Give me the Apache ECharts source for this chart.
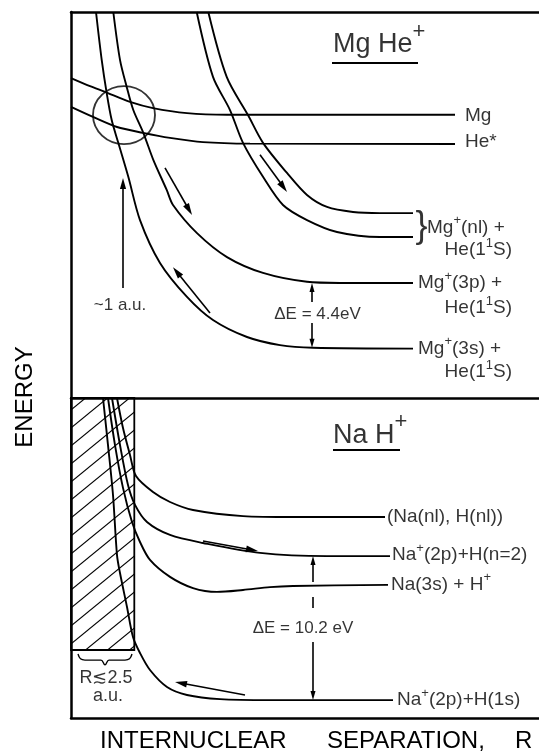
<!DOCTYPE html>
<html><head><meta charset="utf-8">
<script src="https://cdn.jsdelivr.net/npm/echarts@6/dist/echarts.min.js"></script>
<style>html,body{margin:0;padding:0;background:#fff}#c{width:539px;height:752px}</style>
</head><body><div id="c"></div>
<script>
// ---------- Upper panel: MgHe+ (R and energy in arbitrary units) ----------
const mgCurve    = [[0,82.9],[3.8,80.8],[6.8,79.3],[11.8,76.7],[16.4,75.1],[23.2,73.8],[31.2,73.4],[45.8,73.4],[76.8,73.4]];
const heStarCurve= [[0,75.4],[4.4,72.8],[9.2,70.2],[14.4,68.7],[19.8,67.4],[26.4,66.3],[35.8,65.9],[76.8,65.8]];
const mg3sCurve  = [[5.0,100],[6.14,87.6],[7.14,79.0],[8.14,72.0],[9.46,66.1],[11.46,57.3],[13.8,46.1],[17.8,35.0],[23.2,26.2],[28.4,20.2],[35.2,15.8],[41.8,13.7],[48.4,13.0],[68.4,12.8]];
const mg3pCurve  = [[8.46,100],[9.8,87.6],[11.14,80.6],[12.46,74.6],[14.46,68.7],[16.46,61.7],[19.14,53.9],[20.4,50.0],[25.2,42.7],[31.2,36.5],[38.4,32.4],[47.2,30.1],[53.8,29.8],[68.4,29.8]];
const mgNlLower  = [[25.14,100],[28.4,83.2],[31.8,74.6],[34.4,66.1],[38.4,57.3],[42.4,50.0],[47.2,46.1],[53.2,43.0],[61.8,41.7],[68.4,41.7]];
const mgNlUpper  = [[27.46,100],[31.14,83.2],[35.4,73.3],[38.4,66.1],[43.2,58.3],[47.2,52.6],[51.2,49.5],[56.4,48.2],[61.8,47.9],[68.4,47.9]];
const crossingCircle = [[10.6,73.3]];
const titleRule1 = [[52.2,86.8],[69.4,86.8]];
// arrows: [x1, y1, x2, y2, headLength]
const topArrows = [
  [18.8,59.6,24.2,47.4,12],
  [37.8,63.0,43.2,53.4,12],
  [27.8,22.0,20.4,33.9,12],
  [10.4,28.5,10.4,57.0,11],
  [48.2,24.9,48.2,29.8,9],
  [48.2,19.4,48.2,13.0,9]
];
// text items: [text, x, y]   ("^c" marks a raised character)
const topStateLabels = [
  ['Mg', 78.8, 73.1], ['He*', 78.8, 66.3],
  ['Mg^+(nl) +', 71.2, 44.2], ['Mg^+(3p) +', 69.4, 29.8], ['Mg^+(3s) +', 69.4, 12.8]
];
const topPartnerLabels = [['He(1^1S)', 88.2, 38.3], ['He(1^1S)', 88.2, 23.3], ['He(1^1S)', 88.2, 6.7]];
const topBrace = [['}', 68.9, 44.2]];
const topNotes = [['\u0394E = 4.4eV', 49.3, 21.6], ['~1 a.u.', 9.8, 24.1]];
const topTitle = [['Mg He^+', 52.4, 91.5]];

// ---------- Lower panel: NaH+ ----------
const naNlCurve  = [[9.2,100],[10.4,90.6],[11.8,82.2],[13.0,75.6],[16.4,70.6],[19.8,67.5],[24.4,65.0],[34.4,63.1],[44.4,62.8],[62.8,62.8]];
const naN2Curve  = [[8.2,100],[9.8,85.3],[11.4,72.8],[12.8,66.6],[15.2,61.25],[19.8,57.2],[26.4,54.7],[37.8,51.6],[51.2,50.6],[63.8,50.6]];
const na3sCurve  = [[7.4,100],[8.8,85.3],[10.4,71.9],[12.2,61.25],[13.8,55.0],[15.8,49.4],[19.8,44.1],[24.4,40.6],[29.2,39.4],[34.4,40.0],[39.8,40.9],[44.4,41.25],[63.4,41.6]];
const na1sCurve  = [[6.4,100],[7.4,85.3],[8.4,69.7],[9.2,50.9],[9.8,45.3],[11.2,34.7],[12.4,25.3],[13.8,20.3],[15.8,15.0],[19.2,9.7],[23.2,7.2],[29.8,5.9],[39.8,5.6],[64.4,5.6]];
const hatchedRegion = [[0,21.25],[12.66,100]];
const rangeBrace = [[1.4,20.0],[1.9,18.5],[2.8,18.1],[6.0,18.1],[6.8,16.6],[7.6,18.1],[10.8,18.1],[11.7,18.5],[12.2,20.0]];
const titleRule2 = [[52.4,83.75],[65.8,83.75]];
const bottomArrows = [
  [26.4,55.3,37.4,52.2,12],
  [34.8,7.2,20.8,11.25,12],
  [48.4,42.5,48.4,50.6,9],
  [48.4,37.8,48.4,34.4,0],
  [48.4,23.75,48.4,5.6,9]
];
const bottomStateLabels = [
  ['(Na(nl), H(nl))', 63.2, 62.8],
  ['Na^+(2p)+H(n=2)', 64.2, 50.9],
  ['Na(3s) + H^+', 64.0, 41.6],
  ['Na^+(2p)+H(1s)', 65.2, 5.6]
];
const bottomNotes = [['\u0394E = 10.2 eV', 46.4, 28.1]];
const rangeNotes = [['R\u22722.5', 7.0, 12.5], ['a.u.', 7.4, 6.9]];
const bottomTitle = [['Na H^+', 52.4, 88.4]];

// ---------- rendering ----------
const FONT = 'Liberation Sans, Arial, sans-serif';
const hatch = document.createElement('canvas');
hatch.width = 22; hatch.height = 18;
(function(){
  const g = hatch.getContext('2d');
  g.strokeStyle = '#000'; g.lineWidth = 1.1;
  [-22, 0, 22].forEach(function(o){
    g.beginPath(); g.moveTo(o - 1, 18 + 0.82); g.lineTo(o + 23, -0.82); g.stroke();
  });
})();

function curve(data, gi){
  return {type:'line', data:data, xAxisIndex:gi, yAxisIndex:gi, smooth:0.3, symbol:'none',
    lineStyle:{color:'#000', width:1.9}, silent:true, z:3, animation:false};
}
function arrows(data, gi){
  return {type:'custom', xAxisIndex:gi, yAxisIndex:gi, data:data, silent:true, z:4,
    encode:{x:[0,2], y:[1,3]},
    renderItem:function(params, api){
      const a = api.coord([api.value(0), api.value(1)]);
      const b = api.coord([api.value(2), api.value(3)]);
      const h = api.value(4);
      const dx = b[0]-a[0], dy = b[1]-a[1], L = Math.hypot(dx,dy), ux = dx/L, uy = dy/L;
      const ex = h>0 ? b[0]-ux*h*0.7 : b[0], ey = h>0 ? b[1]-uy*h*0.7 : b[1];
      const ch = [{type:'line', shape:{x1:a[0],y1:a[1],x2:ex,y2:ey}, style:{stroke:'#000', lineWidth:1.6}}];
      if (h>0){
        const w = h*0.28;
        ch.push({type:'polygon', shape:{points:[[b[0],b[1]],
          [b[0]-ux*h-uy*w, b[1]-uy*h+ux*w],[b[0]-ux*h+uy*w, b[1]-uy*h-ux*w]]}, style:{fill:'#000'}});
      }
      return {type:'group', children:ch};
    }};
}
const posOf = {start:'right', end:'left', mid:'inside'};
function texts(list, gi, anchor, size, supSize, supRaise){
  return {type:'scatter', xAxisIndex:gi, yAxisIndex:gi, symbolSize:0, silent:true, z:5, animation:false,
    data:list.map(function(l){
      return {name:l[0], value:[l[1], l[2]],
        label:{show:true, position:posOf[anchor], distance:0, color:'#000',
          formatter: l[0].replace(/\^(.)/g, '{s|$1}'),
          fontFamily:FONT, fontSize:size,
          rich:{s:{fontFamily:FONT, fontSize:supSize||12, color:'#000', padding:[0,0,supRaise||12,0]}}}};
    })};
}

const chart = echarts.init(document.getElementById('c'), null, {renderer:'canvas'});
const frameLine = {show:true, onZero:false, lineStyle:{color:'#000', width:2.5}};
function ax(gi, pos){
  return {type:'value', gridIndex:gi, min:0, max: (pos==='left' ? 100 : 93.6), position:pos,
    axisLine:frameLine, axisTick:{show:false}, axisLabel:{show:false}, splitLine:{show:false}};
}
chart.setOption({
  animation:false,
  backgroundColor:'#fff',
  grid:[
    {left:71, right:0, top:12, height:386, show:false},
    {left:71, right:0, top:398, height:320, show:false}
  ],
  xAxis:[ax(0,'bottom'), ax(1,'bottom'), ax(0,'top')],
  yAxis:[ax(0,'left'), ax(1,'left')],
  graphic:[
    {type:'text', x:25, y:397, rotation:Math.PI/2, silent:true,
      style:{text:'ENERGY', fontFamily:FONT, fontSize:24, fill:'#000', align:'center', verticalAlign:'middle'}},
    {type:'text', x:100, y:741, silent:true,
      style:{text:'INTERNUCLEAR', fontFamily:FONT, fontSize:24, fill:'#000', align:'left', verticalAlign:'middle'}},
    {type:'text', x:327, y:741, silent:true,
      style:{text:'SEPARATION,', fontFamily:FONT, fontSize:24, fill:'#000', align:'left', verticalAlign:'middle'}},
    {type:'text', x:515, y:741, silent:true,
      style:{text:'R', fontFamily:FONT, fontSize:24, fill:'#000', align:'left', verticalAlign:'middle'}}
  ],
  series:[
    curve(mgCurve,0), curve(heStarCurve,0), curve(mg3sCurve,0), curve(mg3pCurve,0),
    curve(mgNlLower,0), curve(mgNlUpper,0),
    {type:'line', data:titleRule1, xAxisIndex:0, yAxisIndex:0, symbol:'none', lineStyle:{color:'#000', width:2}, silent:true},
    {type:'scatter', data:crossingCircle, xAxisIndex:0, yAxisIndex:0, symbol:'circle', symbolSize:[62,58], silent:true, z:3,
      itemStyle:{color:'rgba(0,0,0,0)', borderColor:'#000', borderWidth:1.8}},
    arrows(topArrows,0),
    texts(topStateLabels,0,'start',19,13,14),
    texts(topPartnerLabels,0,'end',19,13,14),
    texts(topBrace,0,'start',36),
    texts(topNotes,0,'mid',17),
    texts(topTitle,0,'start',27,22,26),
    {type:'line', data:[], xAxisIndex:1, yAxisIndex:1, silent:true, z:1,
      markArea:{silent:true, itemStyle:{color:{image:hatch, repeat:'repeat'}, borderColor:'#000', borderWidth:1.8},
        data:[[{coord:hatchedRegion[0]},{coord:hatchedRegion[1]}]]}},
    curve(naNlCurve,1), curve(naN2Curve,1), curve(na3sCurve,1), curve(na1sCurve,1),
    {type:'line', data:rangeBrace, xAxisIndex:1, yAxisIndex:1, smooth:0.4, symbol:'none', lineStyle:{color:'#000', width:1.4}, silent:true},
    {type:'line', data:titleRule2, xAxisIndex:1, yAxisIndex:1, symbol:'none', lineStyle:{color:'#000', width:2}, silent:true},
    arrows(bottomArrows,1),
    texts(bottomStateLabels,1,'start',19,13,14),
    texts(bottomNotes,1,'mid',17),
    texts(rangeNotes,1,'mid',18),
    texts(bottomTitle,1,'start',27,22,26)
  ]
});
</script></body></html>
